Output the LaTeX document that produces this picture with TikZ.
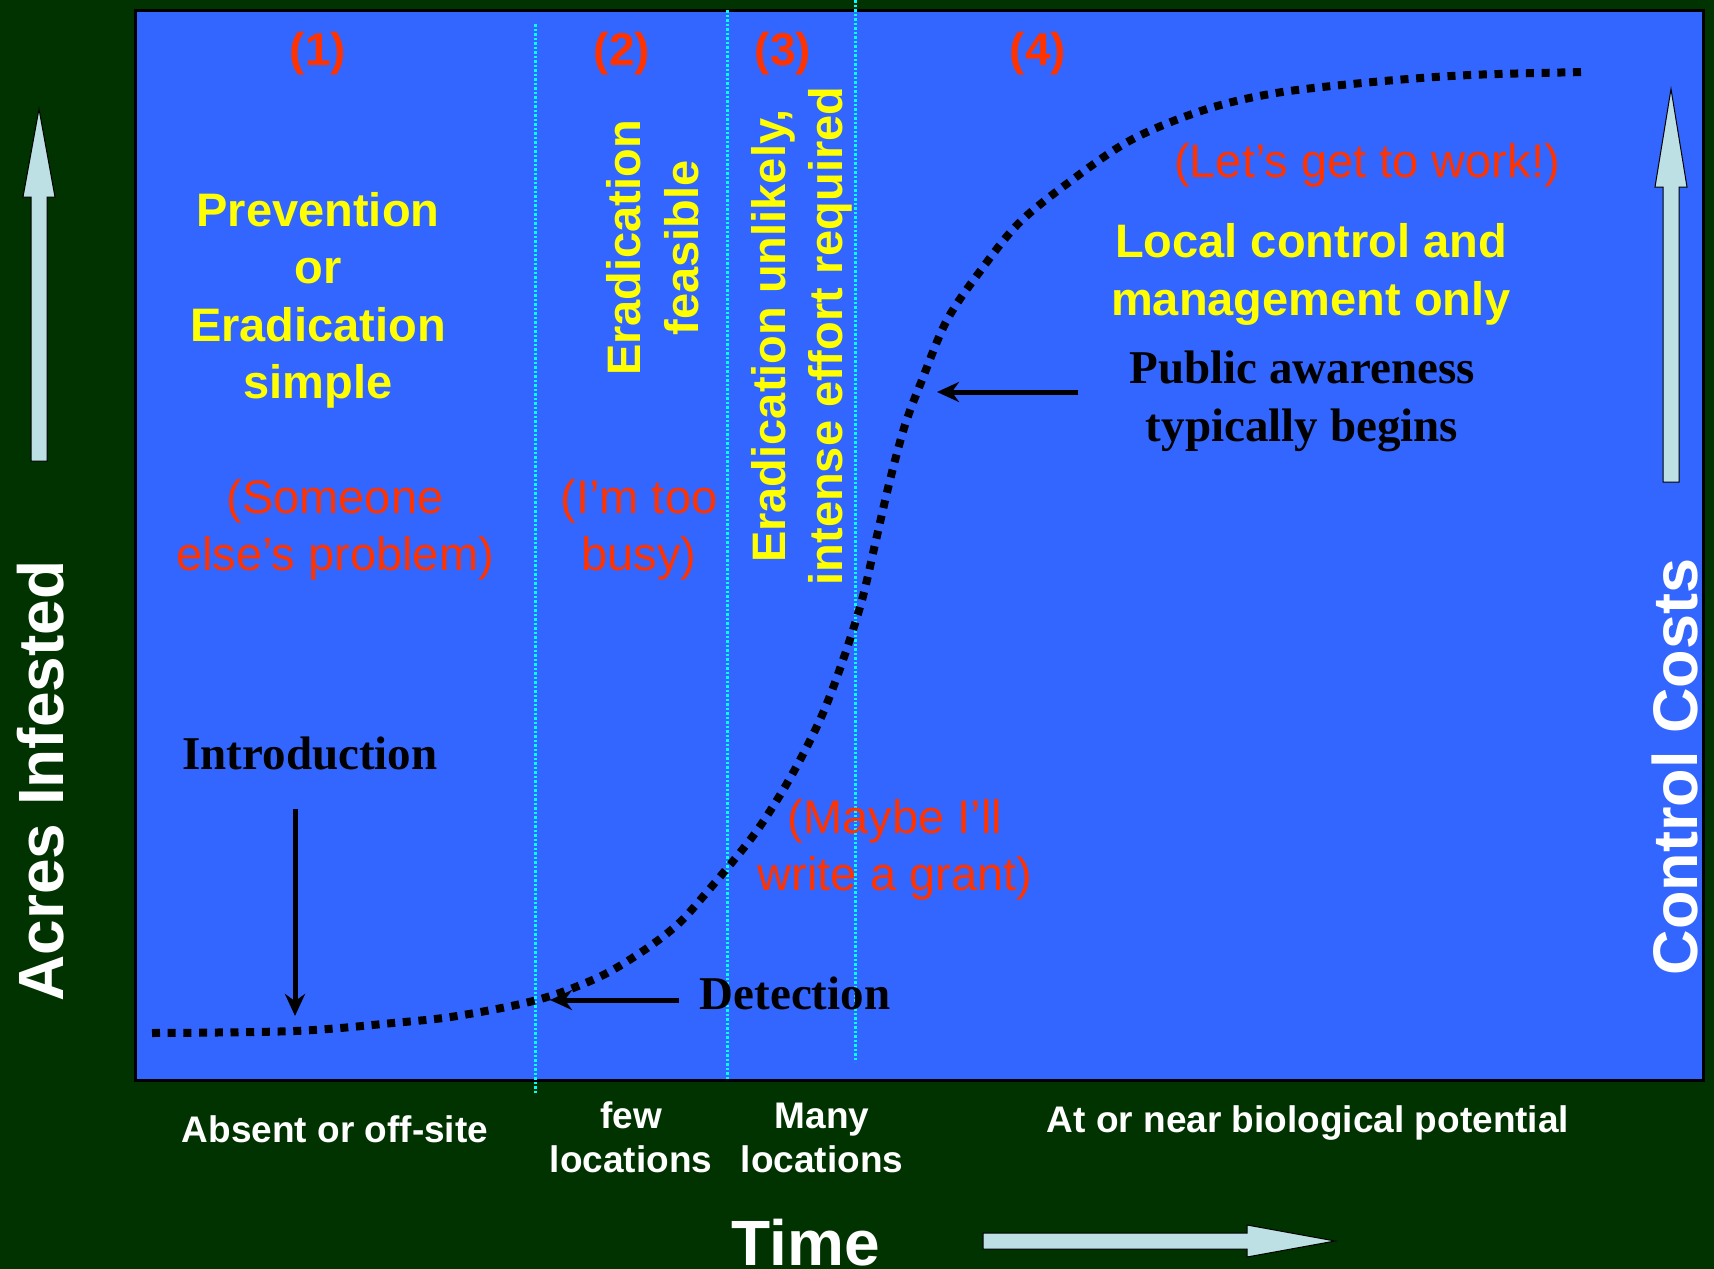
\documentclass[tikz,border=0pt]{standalone}
\usepackage{fontspec}
\setmainfont{Liberation Sans}
\newfontfamily\serifbf{Liberation Serif}
\usetikzlibrary{arrows.meta}
\definecolor{bgg}{HTML}{003300}
\definecolor{panel}{HTML}{3366FF}
\definecolor{ylw}{HTML}{FFFF00}
\definecolor{rd}{HTML}{FF3300}
\definecolor{cy}{HTML}{00FFFF}
\definecolor{arr}{HTML}{BCE0E3}
\begin{document}
\begin{tikzpicture}[x=1pt,y=-1pt,
  txt/.style={inner sep=0pt, anchor=base},
  remark/.style={txt, text=rd, font=\fontsize{47}{56}\selectfont},
  phase/.style={txt, text=ylw, font=\bfseries\fontsize{47}{56}\selectfont},
  num/.style={txt, text=rd, font=\bfseries\fontsize{46}{56}\selectfont},
  event/.style={txt, text=black, font=\serifbf\bfseries\fontsize{47}{56}\selectfont},
  axislabel/.style={txt, text=white, font=\bfseries\fontsize{64}{70}\selectfont},
  stage/.style={txt, text=white, font=\bfseries\fontsize{37}{44}\selectfont},
  sep/.style={draw=cy, line width=3pt, dash pattern=on 2.5pt off 2pt},
  curvedots/.style={line width=8pt, dash pattern=on 8pt off 7.7pt},
  pointer/.style={line width=5pt, -{Stealth[length=22pt,width=20pt]}},
  block/.style={fill=arr, draw=black, line width=1pt}]
\fill[bgg] (0,0) rectangle (1714,1269);
\useasboundingbox (0,0) rectangle (1714,1269);
% panel
\filldraw[fill=panel, draw=black, line width=3pt] (135,10) rectangle (1703,1080);
% separators
\draw[sep] (535,24) -- (535,1093);
\draw[sep] (727,10) -- (727,1080);
\draw[sep] (855,0) -- (855,1062);
% curve
\draw[curvedots] plot[smooth, tension=0.55] coordinates {
 (152,1033) (295,1031) (393,1023) (457,1016) (537,1000) (597,978) (640,953)
 (677,925) (707,892) (750,840) (777,800) (800,760) (823,713) (843,660)
 (862,600) (876,540) (890,480) (905,425) (922,380) (947,320) (981,270)
 (1019,223) (1068,183) (1131,140) (1204,110) (1276,93) (1373,82) (1470,75) (1587,72)};
% block arrows
\filldraw[block] (31,461) -- (31,197) -- (23,197) -- (39,109) -- (55,197) -- (47,197) -- (47,461) -- cycle;
\filldraw[block] (1663,482) -- (1663,187) -- (1655,187) -- (1671,89) -- (1687,187) -- (1679,187) -- (1679,482) -- cycle;
\filldraw[block] (983,1233) -- (1247,1233) -- (1247,1225) -- (1335,1241) -- (1247,1257) -- (1247,1249) -- (983,1249) -- cycle;
% numbers
\node[num] (n1) at (318,65) {(1)};
\node[num] (n2) at (622,65) {(2)};
\node[num] (n3) at (783,65) {(3)};
\node[num] (n4) at (1038,65) {(4)};
% phase 1
\node[phase] (p1a) at (318,226) {Prevention};
\node[phase] (p1b) at (318,283) {or};
\node[phase] (p1c) at (318,341) {Eradication};
\node[phase] (p1d) at (318,398) {simple};
\node[remark] (r1a) at (335,513) {(Someone};
\node[remark] (r1b) at (335,570) {else’s problem)};
% phase 2
\node[phase, rotate=90] (p2a) at (640,248) {Eradication};
\node[phase, rotate=90] (p2b) at (698,248) {feasible};
\node[remark] (r2a) at (639,513) {(I’m too};
\node[remark] (r2b) at (639,570) {busy)};
% phase 3
\node[phase, rotate=90] (p3a) at (785,336) {Eradication unlikely,};
\node[phase, rotate=90] (p3b) at (842,336) {intense effort required};
\node[remark] (r3a) at (895,833) {(Maybe I’ll};
\node[remark] (r3b) at (895,890) {write a grant)};
% phase 4
\node[remark] (r4) at (1367,177) {(Let’s get to work!)};
\node[phase] (p4a) at (1311,257) {Local control and};
\node[phase] (p4b) at (1311,315) {management only};
% events
\node[event] (pub1) at (1302,383) {Public awareness};
\node[event] (pub2) at (1302,441) {typically begins};
\node[event] (intro) at (310,769) {Introduction};
\node[event] (detect) at (795,1009) {Detection};
\coordinate (pubtail) at (1078,392);
\coordinate (pubtip) at (937,392);
\coordinate (introtail) at (295,809);
\coordinate (introtip) at (295,1016);
\coordinate (dettail) at (679,1000);
\coordinate (dettip) at (550,1000);
\draw[pointer] (pubtail) -- (pubtip);
\draw[pointer] (introtail) -- (introtip);
\draw[pointer] (dettail) -- (dettip);
% bottom stage labels
\node[stage] (s1) at (335,1142) {Absent or off-site};
\node[stage] (s2a) at (631,1128) {few};
\node[stage] (s2b) at (631,1172) {locations};
\node[stage] (s3a) at (822,1128) {Many};
\node[stage] (s3b) at (822,1172) {locations};
\node[stage] (s4) at (1308,1132) {At or near biological potential};
% axes
\node[axislabel] (time) at (806,1265) {Time};
\node[axislabel, rotate=90] (acres) at (63,781) {Acres Infested};
\node[axislabel, rotate=90, font=\bfseries\fontsize{63}{70}\selectfont] (costs) at (1697,767) {Control Costs};
\end{tikzpicture}
\end{document}
